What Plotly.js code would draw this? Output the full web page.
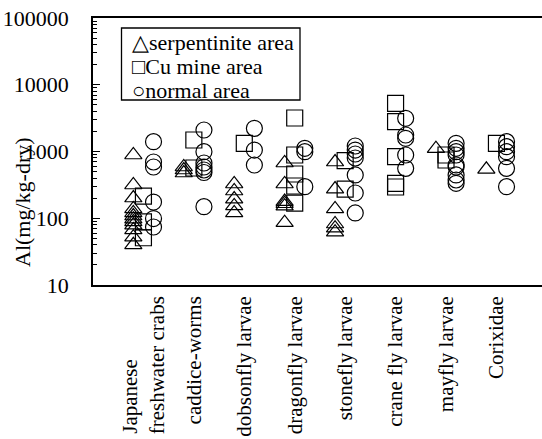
<!DOCTYPE html>
<html><head><meta charset="utf-8">
<script src="https://cdn.plot.ly/plotly-3.0.1.min.js"></script>
<style>
html,body{margin:0;padding:0;background:#fff;overflow:hidden}
svg text{font-family:'Liberation Serif','Times New Roman',serif !important}
</style>
</head><body>
<div id="chart" style="width:542px;height:439px"></div>
<script>
const NB = "\u00A0";
const categories = [
  "Japanese" + NB.repeat(12) + "<br>freshwater crabs",
  "caddice-worms", "dobsonfly larvae", "dragonfly larvae",
  "stonefly larvae", "crane fly larvae", "mayfly larvae", "Corixidae"
];
const seriesNames = ["serpentinite area", "Cu mine area", "normal area"];
const legendGlyphs = ["\u25B3", "\u25A1", "\u25CB"];

// Al (mg/kg-dry), one list per category
const serpentinite = [
  [887, 315, 201, 138, 120, 108, 97, 88, 79, 67, 52, 40],
  [586, 528, 476],
  [326, 256, 194, 153, 120],
  [673, 326, 178, 165, 152, 86],
  [696, 274, 138, 82, 71, 62],
  [],
  [1102],
  [541]
];
const cuMine = [
  [215, 88, 51],
  [1487, 566],
  [1327],
  [3176, 887, 460, 304, 169],
  [728, 274],
  [5272, 2795, 836, 334, 294],
  [887, 746],
  [1327]
];
const normal = [
  [1403, 696, 586, 175, 99, 74],
  [2100, 993, 673, 586, 528, 485, 149],
  [2226, 1052, 628],
  [1117, 993, 297],
  [1209, 1052, 918, 799, 445, 239, 120],
  [3144, 1767, 1577, 887, 560],
  [1327, 1117, 993, 887, 628, 586, 445, 374, 334],
  [1403, 1180, 993, 836, 560, 297]
];
const yTickVals = [10, 100, 1000, 10000, 100000];
const yTickText = ["10", "100", "1000", "10000", "100000"];
const minorTickVals = [];
yTickVals.slice(0, -1).forEach(d => { for (let m = 2; m <= 9; m++) minorTickVals.push(d * m); });

function flatten(groups, offset) {
  const x = [], y = [];
  groups.forEach((vals, i) => vals.forEach(v => { x.push(i + 1 + offset); y.push(v); }));
  return {x, y};
}
const specs = [
  {data: serpentinite, off: -0.2, sym: "triangle-up-open", size: 15},
  {data: cuMine, off: 0, sym: "square-open", size: 16},
  {data: normal, off: 0.2, sym: "circle-open", size: 16}
];
const traces = specs.map((s, k) => {
  const p = flatten(s.data, s.off);
  return {
    type: "scatter", mode: "markers", name: seriesNames[k],
    x: p.x, y: p.y, showlegend: false,
    marker: {symbol: s.sym, size: s.size, color: "black", line: {width: 1.2, color: "black"}}
  };
});

const FONT = "Liberation Serif";
const FS = 22;
const plotL = 93, plotT = 18, plotB = 285, W = 542;
const pw = W - plotL, ph = plotB - plotT;
const px = v => (v - plotL) / pw;
const py = v => (plotB - v) / ph;

const legendRows = [42, 66, 90];
const annotations = seriesNames.map((n, k) => ({
  xref: "paper", yref: "paper", x: px(130), y: py(legendRows[k]),
  xanchor: "left", yanchor: "middle", showarrow: false,
  text: legendGlyphs[k] + n, font: {family: FONT, size: FS, color: "black"}
}));
annotations.push({
  xref: "paper", yref: "paper", x: px(22), y: py(202),
  xanchor: "center", yanchor: "middle", showarrow: false, textangle: -90,
  text: "Al(mg/kg-dry)", font: {family: FONT, size: FS, color: "black"}
});

const layout = {
  width: 542, height: 439,
  margin: {l: plotL, r: 0, t: plotT, b: 439 - plotB, pad: 0},
  paper_bgcolor: "white", plot_bgcolor: "white",
  showlegend: false,
  xaxis: {
    range: [0, pw / 50.43], showgrid: false, zeroline: false,
    showline: true, mirror: true, linecolor: "black", linewidth: 1.5,
    ticks: "", tickmode: "array", tickvals: categories.map((c, i) => i + 1),
    ticktext: categories, tickangle: -90, ticklabelstandoff: 1,
    tickfont: {family: FONT, size: 21, color: "black"}
  },
  yaxis: {
    type: "log", range: [1, 5], showgrid: false, zeroline: false,
    showline: true, mirror: false, linecolor: "black", linewidth: 1.5,
    ticks: "inside", ticklen: 7, tickwidth: 1.2, tickcolor: "black",
    tickmode: "array", tickvals: yTickVals, ticktext: yTickText,
    ticklabelstandoff: 18,
    tickfont: {family: FONT, size: FS, color: "black"},
    minor: {ticks: "inside", ticklen: 4, tickwidth: 1, tickcolor: "black",
            tickmode: "array", tickvals: minorTickVals, showgrid: false}
  },
  shapes: [{
    type: "rect", xref: "paper", yref: "paper",
    x0: px(121.5), x1: px(300), y0: py(100), y1: py(28),
    line: {color: "black", width: 1.3}, fillcolor: "rgba(0,0,0,0)"
  }],
  annotations: annotations
};
Plotly.newPlot("chart", traces, layout, {displayModeBar: false});
</script></body></html>
